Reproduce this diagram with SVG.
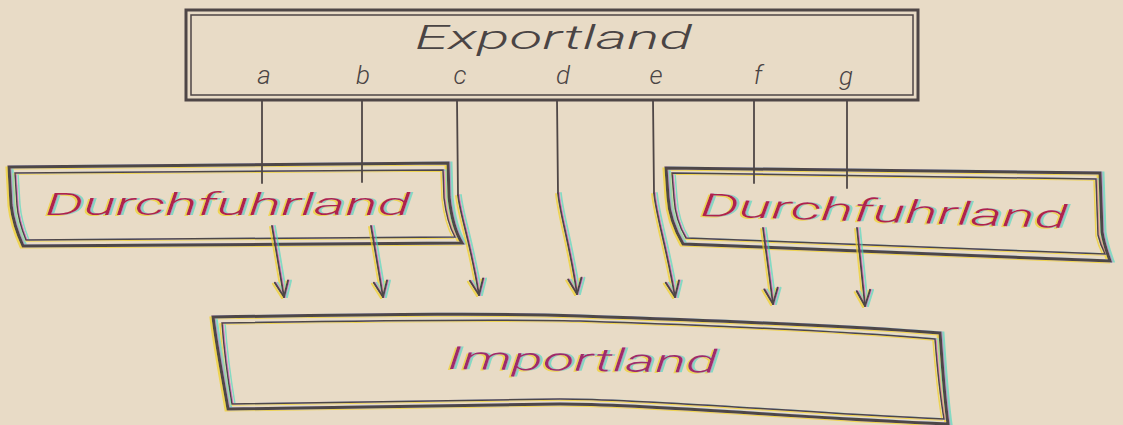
<svg xmlns="http://www.w3.org/2000/svg" width="1123" height="425" viewBox="0 0 1123 425">
  <style>
    .bg { fill: #e8dbc6; }
    .outer { fill: none; stroke: #4e4646; stroke-width: 3; stroke-linejoin: miter; }
    .inner { fill: none; stroke: #4e4646; stroke-width: 1.5; }
    .conn { fill: none; stroke: #4e4646; stroke-width: 1.8; stroke-linecap: round; }
    .lbl { font-family: Roboto, "DejaVu Sans", "Liberation Sans", sans-serif; font-style: italic; font-weight: 300; }
    .title { fill: #4a4444; font-size: 33px; }
    .letter { fill: #4a4444; font-size: 26px; text-anchor: middle; }
    .red { fill: #b0204c; font-size: 32px; }
    .imp { fill: #a02a6a; font-size: 32px; }
  </style>
  <defs>
    <marker id="arrow" markerUnits="userSpaceOnUse" markerWidth="20" markerHeight="20" viewBox="-16 -8 18 16" refX="0" refY="0" orient="auto">
      <path d="M-14,-6 L0,0 L-14,6" fill="none" stroke="#4e4646" stroke-width="1.8" stroke-linecap="round" stroke-linejoin="round"/>
    </marker>
    <filter id="ab" x="-5%" y="-20%" width="110%" height="140%">
      <feOffset in="SourceAlpha" dx="-2.5" dy="1" result="o1"/>
      <feFlood flood-color="#f0d020" flood-opacity="0.7" result="f1"/>
      <feComposite in="f1" in2="o1" operator="in" result="y"/>
      <feOffset in="SourceAlpha" dx="2.5" dy="0" result="o2"/>
      <feFlood flood-color="#40d8c0" flood-opacity="0.6" result="f2"/>
      <feComposite in="f2" in2="o2" operator="in" result="c"/>
      <feOffset in="SourceAlpha" dx="1.2" dy="0" result="o3"/>
      <feFlood flood-color="#c020c0" flood-opacity="0.5" result="f3"/>
      <feComposite in="f3" in2="o3" operator="in" result="m"/>
      <feMerge>
        <feMergeNode in="y"/>
        <feMergeNode in="c"/>
        <feMergeNode in="m"/>
        <feMergeNode in="SourceGraphic"/>
      </feMerge>
    </filter>
  </defs>

  <rect class="bg" x="0" y="0" width="1123" height="425"/>

  <g id="exportland">
    <rect class="outer" x="186" y="10" width="732" height="90"/>
    <rect class="inner" x="191" y="15" width="722" height="80"/>
    <text class="lbl title" x="415" y="49" textLength="277" lengthAdjust="spacingAndGlyphs">Exportland</text>
    <text class="lbl letter" x="264" y="84">a</text>
    <text class="lbl letter" x="363" y="84">b</text>
    <text class="lbl letter" x="460" y="84">c</text>
    <text class="lbl letter" x="563" y="84">d</text>
    <text class="lbl letter" x="656" y="84">e</text>
    <text class="lbl letter" x="758" y="84">f</text>
    <text class="lbl letter" x="846" y="85">g</text>
  </g>

  <g id="durchfuhrland-left" filter="url(#ab)">
    <path class="outer" d="M9,167 L448,163 L449,197 C451,215 455,232 462,243 L23,246 C18,235 13,222 11,205 Z"/>
    <path class="inner" d="M15,173 L443,170 L444,198 C446,215 450,228 455,237 L26,240 C22,230 18,218 17,205 Z"/>
    <text class="lbl red" x="45" y="215" textLength="365" lengthAdjust="spacingAndGlyphs">Durchfuhrland</text>
  </g>

  <g id="durchfuhrland-right" filter="url(#ab)">
    <path class="outer" d="M666,168 L1100,173 L1102,232 C1104,245 1107,252 1110,261 L683,244 C676,232 669,215 668,197 Z"/>
    <path class="inner" d="M672,173 L1096,179 L1098,235 C1100,243 1102,248 1105,254 L686,238 C680,228 675,215 674,198 Z"/>
    <text class="lbl red" x="700" y="216" transform="rotate(1.9 700 216)" textLength="367" lengthAdjust="spacingAndGlyphs">Durchfuhrland</text>
  </g>

  <g id="importland" filter="url(#ab)">
    <path class="outer" d="M213,317 C400,314 500,313 580,316 C700,320 850,326 940,333 C942,360 944,395 948,424 C800,418 650,404 560,404 L228,409 C224,385 217,350 213,317 Z"/>
    <path class="inner" d="M222,323 C400,320 500,319 580,321 C700,325 850,332 935,339 C937,365 940,395 944,419 C800,413 650,399 560,399 L232,404 C228,380 224,350 222,323 Z"/>
    <text class="lbl imp" x="447" y="369" transform="rotate(0.8 447 369)" textLength="270" lengthAdjust="spacingAndGlyphs">Importland</text>
  </g>

  <g id="connectors">
    <path class="conn" d="M262,100 V183"/>
    <path class="conn" d="M362,100 V182"/>
    <path class="conn" d="M754,100 V183"/>
    <path class="conn" d="M847,100 V188"/>
    <path class="conn" d="M457,100 L458,195"/>
    <path class="conn" d="M557,100 L558,193"/>
    <path class="conn" d="M653,100 L654,193"/>
    <g filter="url(#ab)">
      <path class="conn" d="M458,195 C460,215 470,240 479,295" marker-end="url(#arrow)"/>
      <path class="conn" d="M558,193 C560,215 570,245 577,294" marker-end="url(#arrow)"/>
      <path class="conn" d="M654,193 C656,215 666,245 675,297" marker-end="url(#arrow)"/>
      <path class="conn" d="M272,226 L284,297" marker-end="url(#arrow)"/>
      <path class="conn" d="M371,226 L383,297" marker-end="url(#arrow)"/>
      <path class="conn" d="M763,228 L773,304" marker-end="url(#arrow)"/>
      <path class="conn" d="M857,228 L865,306" marker-end="url(#arrow)"/>
    </g>
  </g>
</svg>
